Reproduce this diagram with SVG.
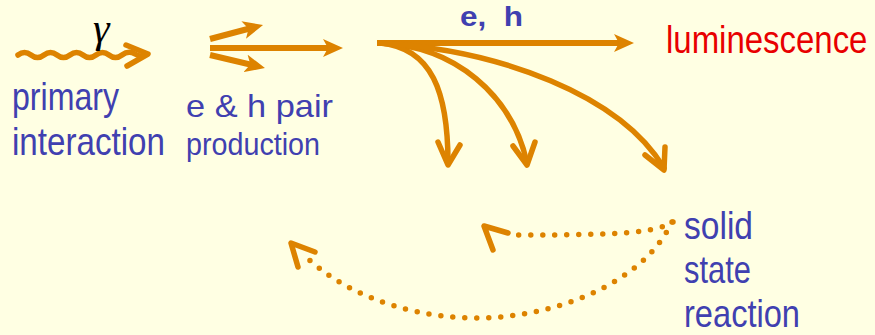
<svg xmlns="http://www.w3.org/2000/svg" width="875" height="335" viewBox="0 0 875 335">
<style>
.bg{fill:#FFFFE3}
.t{font-family:"Liberation Sans",Arial,sans-serif;fill:#4040B0}
.big{font-size:39px}
.mid{font-size:32px}
.red{fill:#E80000}
.ln{fill:none;stroke:#DD8300;stroke-width:6}
.cv{fill:none;stroke:#DD8300;stroke-width:5.5;stroke-linecap:round;stroke-linejoin:round}
.dot{fill:none;stroke:#DD8300;stroke-width:5.5;stroke-linecap:round;stroke-dasharray:0 12}
</style>
<defs>
<marker id="ah" markerUnits="userSpaceOnUse" viewBox="0 0 20 18" markerWidth="20" markerHeight="18" refX="12" refY="9" orient="auto">
<path d="M0,0 L20,9 L0,18 L5,9 Z" fill="#DD8300"/>
</marker>
</defs>
<rect class="bg" x="0" y="0" width="875" height="335"/>
<g id="connectors">
<path class="cv" d="M18,55 Q24.5,50 31,55 T44,55 T57,55 T70,55 T83,55 T96,55 T109,55 T122,55 T135,54 T146,54"/>
<polyline class="cv" points="126,45 148,54 127,66"/>
<line class="ln" x1="210" y1="39" x2="255.3" y2="27" marker-end="url(#ah)"/>
<line class="ln" x1="210" y1="48" x2="335" y2="48" marker-end="url(#ah)"/>
<line class="ln" x1="210" y1="55" x2="257.2" y2="66.2" marker-end="url(#ah)"/>
<line class="ln" x1="377" y1="43" x2="626" y2="43" marker-end="url(#ah)"/>
<path class="cv" d="M380,43 C432,48 448,92 448,163"/>
<polyline class="cv" points="438,142 448,165 460,145"/>
<path class="cv" d="M380,43 C455,46 512,95 527,163"/>
<polyline class="cv" points="513,146 527,165 535,142"/>
<path class="cv" d="M380,43 C500,50 620,95 664,168"/>
<polyline class="cv" points="645,155 664,170 665,147"/>
<path class="dot" d="M673,222 C655,233 620,235 518,235"/>
<polyline class="cv" points="508,233 484,226 493,250"/>
<path class="dot" d="M672,222 C640,290 540,320 470,318 C400,316 340,290 305,256"/>
<polyline class="cv" points="315,252 291,243 298,267"/>
</g>
<g id="gamma"><text x="93" y="42" font-family="Liberation Serif,serif" font-style="italic" font-size="42" fill="#000">γ</text></g>
<g id="primary-interaction">
<text class="t big" x="12" y="110" textLength="107" lengthAdjust="spacingAndGlyphs">primary</text>
<text class="t big" x="12" y="155" textLength="153" lengthAdjust="spacingAndGlyphs">interaction</text>
</g>
<g id="pair-production">
<text class="t mid" x="186" y="117" textLength="147" lengthAdjust="spacingAndGlyphs">e &amp; h  pair</text>
<text class="t mid" x="186" y="155" textLength="134" lengthAdjust="spacingAndGlyphs">production</text>
</g>
<g id="eh"><text class="t" x="460" y="26" font-size="28" font-weight="bold" textLength="63" lengthAdjust="spacingAndGlyphs" xml:space="preserve">e,  h</text></g>
<g id="luminescence"><text class="t big red" transform="translate(666,53) scale(0.845,1)" x="0" y="0">luminescence</text></g>
<g id="solid-state-reaction">
<text class="t big" x="684" y="239" textLength="69" lengthAdjust="spacingAndGlyphs">solid</text>
<text class="t big" x="684" y="283" textLength="67" lengthAdjust="spacingAndGlyphs">state</text>
<text class="t big" x="684" y="327" textLength="116" lengthAdjust="spacingAndGlyphs">reaction</text>
</g>
</svg>
